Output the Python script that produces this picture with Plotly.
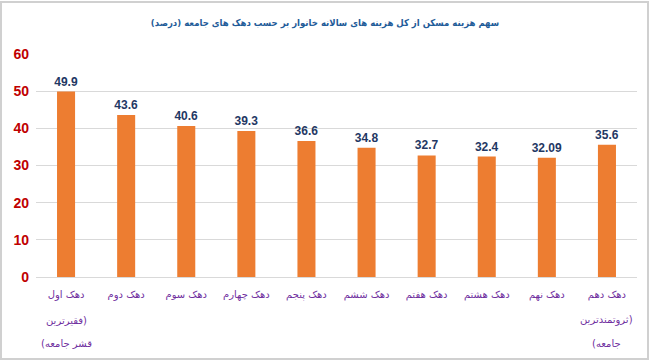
import plotly.graph_objects as go

categories = ["دهک اول", "دهک دوم", "دهک سوم", "دهک چهارم", "دهک پنجم",
              "دهک ششم", "دهک هفتم", "دهک هشتم", "دهک نهم", "دهک دهم"]
values = [49.9, 43.6, 40.6, 39.3, 36.6, 34.8, 32.7, 32.4, 32.09, 35.6]
value_labels = ["49.9", "43.6", "40.6", "39.3", "36.6", "34.8", "32.7", "32.4", "32.09", "35.6"]
extra_lines = {0: ["فقیرترین)", "(قشر جامعه"], 9: ["ثروتمندترین)", "(جامعه"]}
y_ticks = [0, 10, 20, 30, 40, 50, 60]
title = "سهم هزینه مسکن از کل هزینه های سالانه خانوار بر حسب دهک های جامعه (درصد)"

FONT = "DejaVu Sans"
x = list(range(len(categories)))

fig = go.Figure(go.Bar(
    x=x, y=values, width=0.3,
    marker=dict(color="#ED7D31", line=dict(width=0)),
    text=value_labels, textposition="outside", cliponaxis=False,
    constraintext="none",
    textfont=dict(family="Liberation Sans", size=12, color="#1F3864", weight="bold"),
))

annotations = []
for i, lines in extra_lines.items():
    for k, line in enumerate(lines):
        annotations.append(dict(
            x=i, y=0, xref="x", yref="paper", text=line, showarrow=False,
            yanchor="middle", yshift=-43 - 23 * k,
            font=dict(family=FONT, size=10, color="#7030A0"),
        ))

fig.update_layout(
    width=650, height=361,
    margin=dict(l=36, r=13, t=54, b=84),
    paper_bgcolor="white", plot_bgcolor="white",
    showlegend=False,
    title=dict(text="<b>" + title + "</b>", x=0.5, xanchor="center", y=0.937, yanchor="middle",
               font=dict(family="DejaVu Sans Condensed, DejaVu Sans", size=9.5, color="#1F5C99")),
    xaxis=dict(tickmode="array", tickvals=x, ticktext=categories, range=[-0.5, 9.5],
               showgrid=False, showline=True, linecolor="#D9D9D9", linewidth=1,
               ticks="", tickfont=dict(family=FONT, size=10, color="#7030A0"),
               tickangle=0, ticklabelstandoff=8),
    yaxis=dict(range=[0, 60], tickvals=y_ticks, showgrid=True, gridcolor="#D9D9D9",
               gridwidth=1, zeroline=False, ticks="", showline=False,
               tickfont=dict(family="Liberation Sans", size=14, color="#C00000", weight="bold"),
               ticklabelstandoff=6),
    annotations=annotations,
    shapes=[dict(type="rect", xref="paper", yref="paper",
                 x0=-35/601, x1=1 + 11/601, y0=-82/223, y1=1 + 52/223,
                 line=dict(color="#D0D0D0", width=2), fillcolor="rgba(0,0,0,0)")],
)

fig.write_html("out.html", config={"displayModeBar": False},
               post_script="document.body.style.margin='0';")
